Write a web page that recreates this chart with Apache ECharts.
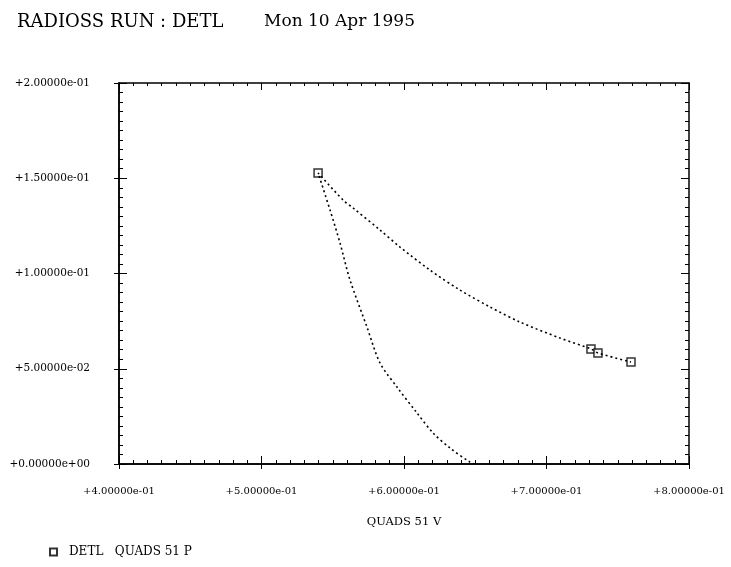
<!DOCTYPE html>
<html>
<head>
<meta charset="utf-8">
<script src="https://cdn.jsdelivr.net/npm/echarts@6/dist/echarts.min.js"></script>
<style>
  html, body { margin: 0; padding: 0; background: #fff; }
  #chart { width: 731px; height: 567px; }
</style>
</head>
<body>
<div id="chart"></div>
<script>
// curve: goes up from the x axis to the top marker, then down to the right end
var curveX = [0.6498, 0.6463, 0.6323, 0.6204, 0.6091, 0.5951, 0.5832, 0.5740, 0.5621, 0.5551, 0.5481, 0.5397,
              0.5572, 0.5642, 0.5832, 0.5972, 0.6182, 0.6393, 0.6604, 0.6814, 0.7095, 0.7312, 0.7361, 0.7593]
var curveY = [0.0000, 0.0010, 0.0084, 0.0163, 0.0268, 0.0404, 0.0530, 0.0719, 0.0966, 0.1160, 0.1333, 0.1528,
              0.1386, 0.1344, 0.1228, 0.1139, 0.1018, 0.0913, 0.0824, 0.0745, 0.0661, 0.0604, 0.0583, 0.0535]
// points that carry a square marker
var markX = [0.5397, 0.7312, 0.7361, 0.7593]
var markY = [0.1528, 0.0604, 0.0583, 0.0535]

var seriesName = 'DETL   QUADS 51 P'
var xName = 'QUADS 51 V'

var font = 'DejaVu Serif'

function sci (v) {
  var s = Math.abs(v).toExponential(5)
  var parts = s.split('e')
  var exp = parseInt(parts[1], 10)
  var e = (exp < 0 ? '-' : '+') + (Math.abs(exp) < 10 ? '0' : '') + Math.abs(exp)
  return (v < 0 ? '-' : '+') + parts[0] + 'e' + e
}

var chart = echarts.init(document.getElementById('chart'))

var baseX = { type: 'value', min: 0.4, max: 0.8, interval: 0.1, splitLine: { show: false } }
var baseY = { type: 'value', min: 0, max: 0.2, interval: 0.05, splitLine: { show: false } }
var axisLine = { show: true, onZero: false, lineStyle: { color: '#000', width: 1.5 } }

var option = {
  backgroundColor: '#fff',
  animation: false,
  title: [
    { text: 'RADIOSS RUN : DETL', left: 12, top: 8, textStyle: { fontFamily: font, fontSize: 18, fontWeight: 'normal', color: '#000' } },
    { text: 'Mon 10 Apr 1995', left: 259, top: 8, textStyle: { fontFamily: font, fontSize: 17, fontWeight: 'normal', color: '#000' } }
  ],
  legend: {
    left: 44,
    top: 541,
    itemWidth: 7,
    itemHeight: 7,
    data: [{ name: seriesName, icon: 'rect' }],
    textStyle: { fontFamily: font, fontSize: 12, color: '#000', padding: [0, 0, 0, 7] }
  },
  grid: { left: 119, right: 42, top: 83, bottom: 103 },
  xAxis: [
    Object.assign({}, baseX, {
      position: 'bottom',
      name: xName,
      nameLocation: 'middle',
      nameGap: 52,
      nameTextStyle: { fontFamily: font, fontSize: 11.5, color: '#000' },
      axisLine: axisLine,
      axisTick: { show: true, inside: true, length: 8, lineStyle: { color: '#000' } },
      minorTick: { show: true, splitNumber: 10, length: 4, lineStyle: { color: '#000' } },
      axisLabel: { margin: 22, formatter: sci, fontFamily: font, fontSize: 10, color: '#000' }
    }),
    Object.assign({}, baseX, {
      position: 'bottom',
      axisLine: axisLine,
      axisTick: { show: true, inside: false, length: 5, lineStyle: { color: '#000' } },
      axisLabel: { show: false }
    }),
    Object.assign({}, baseX, {
      position: 'top',
      axisLine: axisLine,
      axisTick: { show: true, inside: true, length: 7, lineStyle: { color: '#000' } },
      minorTick: { show: true, splitNumber: 10, length: 3, lineStyle: { color: '#000' } },
      axisLabel: { show: false }
    })
  ],
  yAxis: [
    Object.assign({}, baseY, {
      position: 'left',
      axisLine: axisLine,
      axisTick: { show: true, inside: true, length: 8, lineStyle: { color: '#000' } },
      minorTick: { show: true, splitNumber: 10, length: 4, lineStyle: { color: '#000' } },
      axisLabel: { margin: 29, formatter: sci, fontFamily: font, fontSize: 10.5, color: '#000' }
    }),
    Object.assign({}, baseY, {
      position: 'left',
      axisLine: axisLine,
      axisTick: { show: true, inside: false, length: 5, lineStyle: { color: '#000' } },
      axisLabel: { show: false }
    }),
    Object.assign({}, baseY, {
      position: 'right',
      axisLine: axisLine,
      axisTick: { show: true, inside: true, length: 8, lineStyle: { color: '#000' } },
      minorTick: { show: true, splitNumber: 10, length: 4, lineStyle: { color: '#000' } },
      axisLabel: { show: false }
    })
  ],
  series: [
    {
      name: 'curve',
      type: 'line',
      xAxisIndex: 0,
      yAxisIndex: 0,
      showSymbol: false,
      smooth: 0.3,
      lineStyle: { color: '#000', width: 1.6, type: [2, 3] },
      data: curveX.map(function (x, i) { return [x, curveY[i]] })
    },
    {
      name: seriesName,
      type: 'scatter',
      xAxisIndex: 0,
      yAxisIndex: 0,
      symbol: 'rect',
      symbolSize: 8,
      itemStyle: { color: '#fff', borderColor: '#000', borderWidth: 1.5 },
      data: markX.map(function (x, i) { return [x, markY[i]] })
    }
  ]
}

chart.setOption(option)
</script>
</body>
</html>
